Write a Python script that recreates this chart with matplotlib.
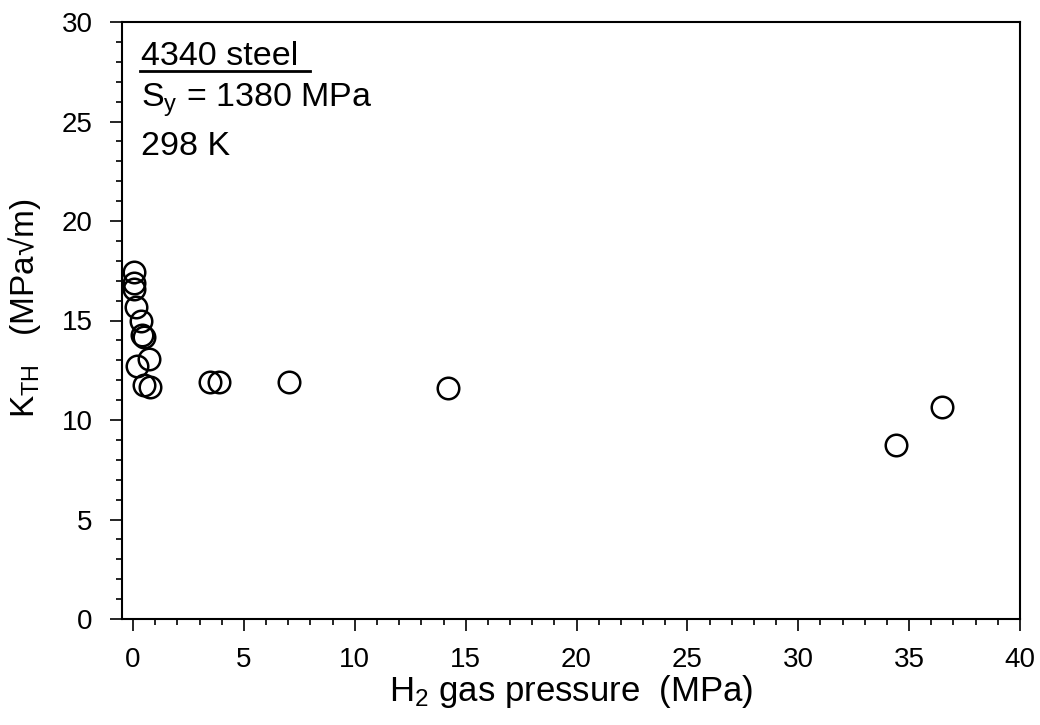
import numpy as np
import matplotlib.pyplot as plt
from matplotlib.ticker import MultipleLocator

plt.rcParams['font.family'] = ['Liberation Sans', 'DejaVu Sans']
plt.rcParams['mathtext.fontset'] = 'custom'
plt.rcParams['mathtext.rm'] = 'Liberation Sans'
plt.rcParams['mathtext.it'] = 'Liberation Sans'

# H2 gas pressure (MPa) e K_TH (MPa sqrt(m))
pressao = [0.03, 0.06, 0.03, 0.15, 0.36, 0.40, 0.48, 0.70, 0.18, 0.51, 0.78,
           3.48, 3.86, 7.01, 14.22, 34.43, 36.46]
k_th = [17.45, 16.87, 16.57, 15.70, 14.99, 14.27, 14.15, 13.05, 12.71, 11.77, 11.67,
        11.92, 11.92, 11.92, 11.59, 8.74, 10.64]

fig = plt.figure(figsize=(10.4, 7.25), dpi=100)
ax = fig.add_axes([122 / 1040, 1 - 619 / 725, 898 / 1040, 597 / 725])

ax.plot(pressao, k_th, 'o', ms=15.5, mfc='none', mec='black', mew=1.8, clip_on=False)

ax.set_xlim(-0.5, 40)
ax.set_ylim(0, 30)
ax.xaxis.set_major_locator(MultipleLocator(5))
ax.xaxis.set_minor_locator(MultipleLocator(1))
ax.yaxis.set_major_locator(MultipleLocator(5))
ax.yaxis.set_minor_locator(MultipleLocator(1))

ax.tick_params(which='both', direction='out', width=1.2, labelsize=20)
ax.tick_params(which='major', length=8.5)
ax.tick_params(which='minor', length=4.5)
ax.tick_params(axis='x', pad=12)
ax.tick_params(axis='y', pad=12.5)
for s in ax.spines.values():
    s.set_linewidth(1.5)

ax.set_xlabel(r'H$_\mathregular{2}$ gas pressure  (MPa)', fontsize=25, labelpad=0)
ax.set_ylabel(r'K$_\mathregular{TH}$   (MPa√m)', fontsize=24)
ax.yaxis.set_label_coords(-0.088, 0.52)

# Texto dentro do grafico
ax.text(0.021, 0.928, '4340 steel', transform=ax.transAxes, fontsize=24.5, va='baseline')
ax.plot([0.02, 0.209], [0.918, 0.918], transform=ax.transAxes, color='black', lw=2)
ax.text(0.021, 0.858, r'S$_\mathregular{y}$ = 1380 MPa', transform=ax.transAxes, fontsize=24.5, va='baseline')
ax.text(0.021, 0.777, '298 K', transform=ax.transAxes, fontsize=24.5, va='baseline')

fig.savefig('out.png', dpi=100)
